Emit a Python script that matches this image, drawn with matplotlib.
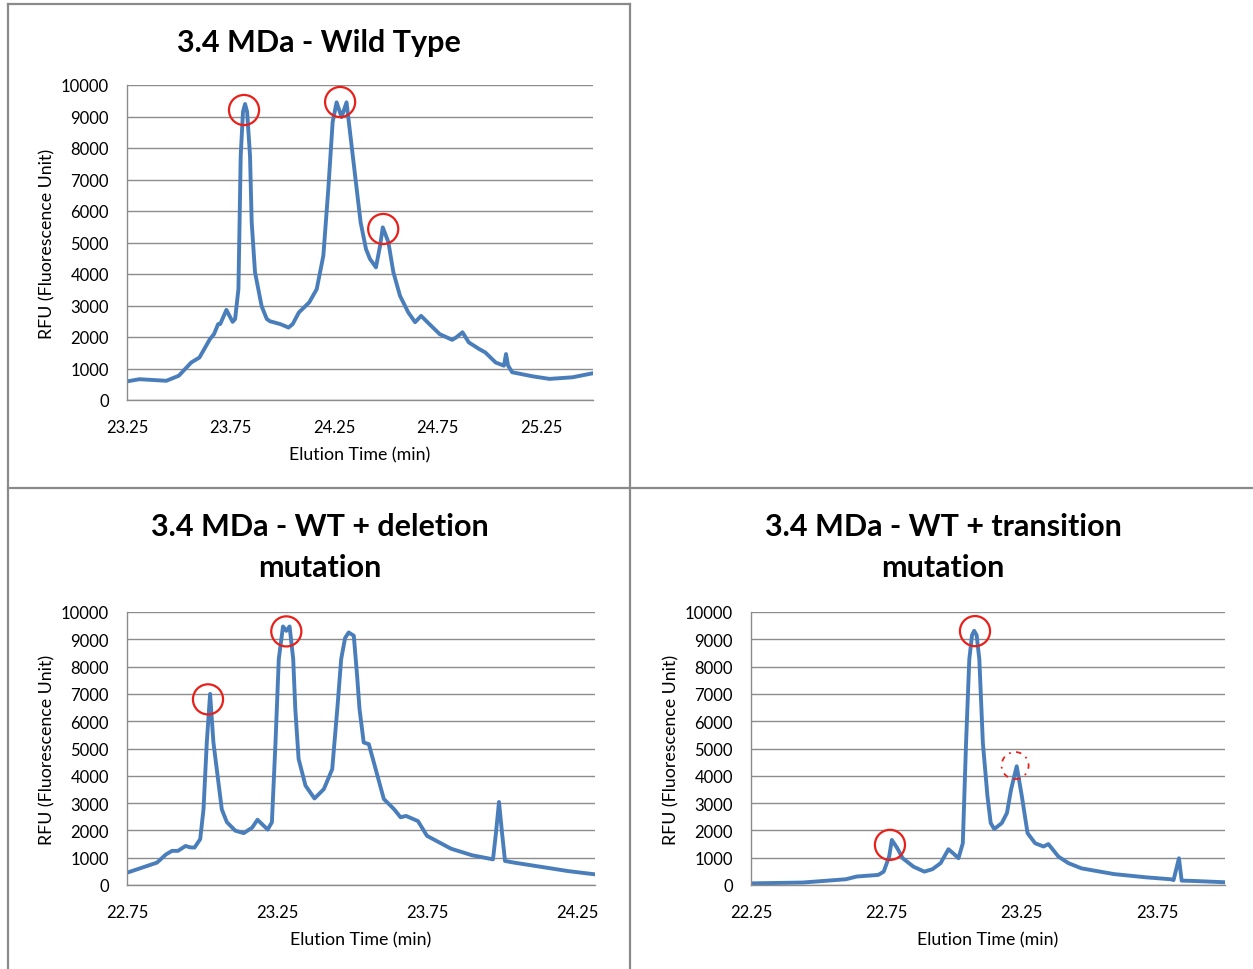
import matplotlib
matplotlib.use("Agg")
import matplotlib.pyplot as plt
from matplotlib.lines import Line2D

# ---------------- data ----------------
wt_time = [23.25, 23.31, 23.44, 23.50, 23.56, 23.60, 23.65, 23.67, 23.69, 23.70, 23.73, 23.76,
           23.772, 23.788, 23.799, 23.810, 23.820, 23.830, 23.844, 23.852, 23.868, 23.884,
           23.900, 23.925, 23.94, 23.99, 24.03, 24.05, 24.08, 24.13, 24.166, 24.198, 24.222,
           24.243, 24.262, 24.286, 24.310, 24.321, 24.340, 24.359, 24.378, 24.404, 24.423,
           24.452, 24.472, 24.485, 24.512, 24.536, 24.568, 24.608, 24.641, 24.67, 24.71, 24.76,
           24.82, 24.84, 24.87, 24.90, 24.95, 24.98, 25.03, 25.07, 25.08, 25.09, 25.11, 25.21,
           25.29, 25.40, 25.50]
wt_rfu = [590, 660, 610, 770, 1190, 1350, 1930, 2090, 2410, 2410, 2860, 2480,
          2570, 3520, 7750, 9150, 9397, 9150, 7750, 5650, 4060, 3520,
          2980, 2570, 2500, 2410, 2300, 2410, 2780, 3100, 3520, 4580, 6700,
          8830, 9450, 8980, 9450, 8830, 7760, 6700, 5640, 4790, 4480,
          4210, 4900, 5480, 5010, 4060, 3310, 2780, 2470, 2670, 2410, 2090,
          1910, 1990, 2150, 1830, 1620, 1510, 1190, 1090, 1460, 1090, 880, 750,
          670, 720, 850]
wt_circle_time = [23.815, 24.279, 24.487]
wt_circle_rfu = [9206, 9460, 5429]

del_time = [22.75, 22.85, 22.88, 22.90, 22.92, 22.945, 22.96, 22.975, 22.994, 23.005, 23.016,
            23.027, 23.038, 23.066, 23.083, 23.111, 23.139, 23.167, 23.185, 23.219, 23.233,
            23.245, 23.256, 23.270, 23.281, 23.292, 23.304, 23.311, 23.322, 23.345, 23.375,
            23.406, 23.434, 23.451, 23.464, 23.477, 23.489, 23.506, 23.517, 23.525, 23.539,
            23.556, 23.579, 23.606, 23.640, 23.662, 23.68, 23.72, 23.75, 23.83, 23.90, 23.97,
            23.98, 23.99, 24.00, 24.01, 24.04, 24.11, 24.22, 24.31]
del_rfu = [450, 820, 1120, 1250, 1250, 1430, 1380, 1370, 1680, 2770, 5230,
           7000, 5230, 2770, 2300, 1990, 1900, 2100, 2390, 2030, 2300,
           5220, 8280, 9470, 9310, 9470, 8280, 6450, 4620, 3640, 3170,
           3510, 4240, 6450, 8280, 9050, 9250, 9130, 7670, 6450, 5220,
           5160, 4240, 3150, 2780, 2480, 2530, 2340, 1800, 1330, 1090, 940,
           1920, 3040, 1920, 880, 820, 700, 510, 390]
del_circle_time = [23.02, 23.281]
del_circle_rfu = [6800, 9290]

tr_time = [22.25, 22.44, 22.60, 22.64, 22.72, 22.74, 22.76, 22.77, 22.79, 22.81, 22.85,
           22.89, 22.92, 22.95, 22.979, 23.00, 23.016, 23.032, 23.044, 23.056, 23.066, 23.074,
           23.083, 23.093, 23.106, 23.123, 23.135, 23.148, 23.176, 23.195, 23.21, 23.231,
           23.25, 23.271, 23.299, 23.33, 23.348, 23.385, 23.422, 23.47, 23.59, 23.71, 23.80,
           23.81, 23.83, 23.84, 23.88, 24.00]
tr_rfu = [60, 90, 210, 310, 370, 490, 1040, 1650, 1350, 980, 670,
          490, 580, 800, 1310, 1130, 980, 1530, 5210, 8270, 9150, 9310,
          9150, 8270, 5210, 3250, 2270, 2050, 2270, 2640, 3490, 4350,
          3250, 1900, 1530, 1410, 1500, 1040, 800, 610, 400, 280, 210,
          180, 980, 160, 150, 100]
tr_circle_time = [22.763, 23.077]
tr_circle_rfu = [1470, 9300]
tr_dashed_time = [23.225]
tr_dashed_rfu = [4375]

titles = [["3.4 MDa - Wild Type"],
          ["3.4 MDa - WT + deletion", "mutation"],
          ["3.4 MDa - WT + transition", "mutation"]]
xlabel = "Elution Time (min)"
ylabel = "RFU (Fluorescence Unit)"
wt_ticks = [23.25, 23.75, 24.25, 24.75, 25.25]
del_ticks = [22.75, 23.25, 23.75, 24.25]
tr_ticks = [22.25, 22.75, 23.25, 23.75]
y_ticks = list(range(0, 10001, 1000))

# ---------------- style ----------------
plt.rcParams['font.family'] = ['Lato', 'DejaVu Sans']
W, H = 1253, 970
fig = plt.figure(figsize=(W / 100, H / 100), dpi=100)

LINE = '#4A7EBB'
GRID = '#8C8C8C'


def make_axes(left, right, top, bottom):
    return fig.add_axes([left / W, 1 - bottom / H, (right - left) / W, (bottom - top) / H])


def style(ax, xlim, ticks):
    ax.set_xlim(*xlim)
    ax.set_ylim(0, 10000)
    ax.set_xticks(ticks)
    ax.set_xticklabels([f"{t:.2f}" for t in ticks])
    ax.set_yticks(y_ticks)
    ax.set_yticklabels([str(v) for v in y_ticks])
    ax.grid(axis='y', color=GRID, lw=1.0)
    ax.set_axisbelow(True)
    for s in ['top', 'right']:
        ax.spines[s].set_visible(False)
    for s in ['left', 'bottom']:
        ax.spines[s].set_color(GRID)
        ax.spines[s].set_linewidth(1.0)
    ax.tick_params(length=0, labelsize=12, colors='#000000')
    ax.tick_params(axis='y', pad=13)
    ax.tick_params(axis='x', pad=14)
    ax.set_xlabel(xlabel, fontsize=12.8, labelpad=8)
    ax.set_ylabel(ylabel, fontsize=12.8, labelpad=4)


def title(lines, cx, y0, dy=41):
    for i, s in enumerate(lines):
        fig.text(cx / W, 1 - (y0 + i * dy) / H, s, fontsize=22, fontweight='bold',
                 ha='center', va='center')


def circles(ax, t, v, dashed=False):
    if dashed:
        ax.scatter(t, v, s=380, facecolors='none', edgecolors='#E8201A', linewidths=1.3,
                   linestyles=(0, (3, 3, 1, 3)), zorder=5, clip_on=False)
    else:
        ax.scatter(t, v, s=470, facecolors='none', edgecolors='#E8201A', linewidths=1.6,
                   zorder=5, clip_on=False)


ax1 = make_axes(127, 593, 86, 401)
ax1.plot(wt_time, wt_rfu, color=LINE, lw=2.8, solid_joinstyle='round')
circles(ax1, wt_circle_time, wt_circle_rfu)
style(ax1, (23.25, 25.5), wt_ticks)
title(titles[0], 319, 43)

ax2 = make_axes(127, 595, 613, 886)
ax2.plot(del_time, del_rfu, color=LINE, lw=2.8, solid_joinstyle='round')
circles(ax2, del_circle_time, del_circle_rfu)
style(ax2, (22.75, 24.31), del_ticks)
title(titles[1], 320, 527)

ax3 = make_axes(751, 1225, 613, 886)
ax3.plot(tr_time, tr_rfu, color=LINE, lw=2.8, solid_joinstyle='round')
circles(ax3, tr_circle_time, tr_circle_rfu)
circles(ax3, tr_dashed_time, tr_dashed_rfu, dashed=True)
style(ax3, (22.25, 24.0), tr_ticks)
title(titles[2], 943, 527)

# panel borders
BORDER = '#8A8A8A'


def fline(x0, y0, x1, y1):
    fig.add_artist(Line2D([x0 / W, x1 / W], [1 - y0 / H, 1 - y1 / H], color=BORDER, lw=1.6))


fline(8, 5, 630, 5)
fline(8, 5, 8, 970)
fline(630, 5, 630, 970)
fline(8, 489, 1253, 489)

fig.savefig("out.png", dpi=100)
